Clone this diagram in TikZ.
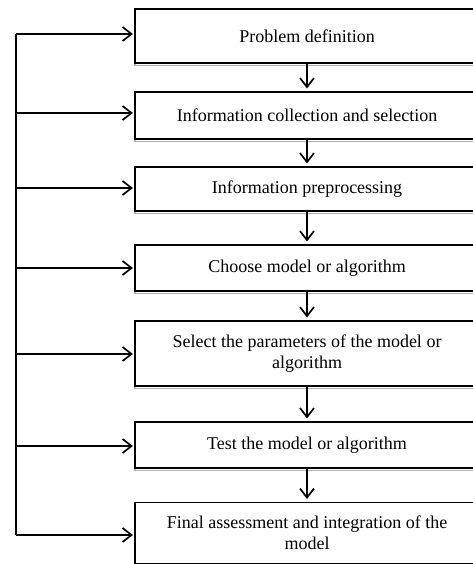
\documentclass[tikz,border=0pt]{standalone}
\usepackage{fontspec}
\setmainfont{Liberation Serif}
\usetikzlibrary{arrows.meta}
\begin{document}
\begin{tikzpicture}[x=1pt,y=-1pt,
  box/.style={draw=black, line width=1.1pt, fill=white, rectangle, minimum width=344pt,
    inner sep=2pt, align=center, font=\fontsize{18}{21}\selectfont,
    preaction={draw=black!30, line width=1.2pt, transform canvas={yshift=-2.6pt}}},
  arr/.style={line width=1.7pt, -{Straight Barb[length=9pt,width=14pt,line width=1.7pt]}},
  bus/.style={line width=1.7pt}]
\useasboundingbox (0,0) rectangle (473,564);
\clip (0,0) rectangle (473,564);
\node[box, minimum height=54pt] (b1) at (307,36) {Problem definition};
\node[box, minimum height=47pt] (b2) at (307,115.5) {Information collection and selection};
\node[box, minimum height=44pt] (b3) at (307,189) {Information preprocessing};
\node[box, minimum height=46pt] (b4) at (307,268) {Choose model or algorithm};
\node[box, minimum height=65pt] (b5) at (307,353.5) {Select the parameters of the model or\\algorithm};
\node[box, minimum height=46pt] (b6) at (307,445) {Test the model or algorithm};
\node[box, minimum height=61pt] (b7) at (307,533) {Final assessment and integration of the\\model};
\coordinate (c1) at (16,34);
\coordinate (c2) at (16,113);
\coordinate (c3) at (16,188);
\coordinate (c4) at (16,268);
\coordinate (c5) at (16,354);
\coordinate (c6) at (16,446);
\coordinate (c7) at (16,535);
\draw[bus] (c1) -- (c7);
\foreach \i in {1,...,7} {
  \draw[arr, shorten >=1.5pt] (c\i) -- (c\i -| b\i.west);
}
\foreach \i/\j in {1/2,2/3,3/4,4/5,5/6,6/7} {
  \draw[arr, shorten >=3pt] (b\i.south) -- (b\j.north);
}
\end{tikzpicture}
\end{document}
